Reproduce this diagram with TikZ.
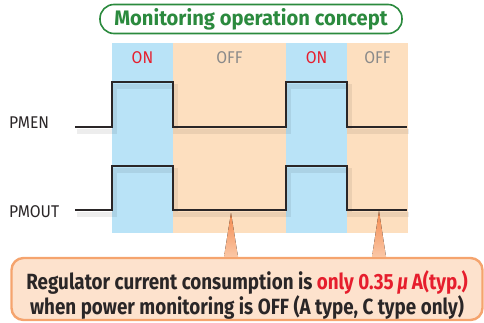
\documentclass[tikz,border=0pt]{standalone}
\usepackage{fontspec}
\newfontfamily\condfont[FakeStretch=0.855]{Fira Sans}
\newfontfamily\titlefont[FakeStretch=0.96]{Fira Sans}
\newfontfamily\labfont[FakeStretch=0.92]{Fira Sans}
\usetikzlibrary{positioning, calc}

\definecolor{bandblue}{HTML}{B9E3F7}
\definecolor{bandorange}{HTML}{FDDFBF}
\definecolor{onred}{HTML}{E61E2D}
\definecolor{offgray}{HTML}{8A8A8A}
\definecolor{textdark}{HTML}{2A2627}
\definecolor{titlegreen}{HTML}{2B8A3E}
\definecolor{notefill}{HTML}{FDE2CD}
\definecolor{noteedge}{HTML}{F5A46E}
\definecolor{pointerorange}{HTML}{F48A4E}

\begin{document}
\begin{tikzpicture}[
    x=1pt, y=-1pt,
    onband/.style={fill=bandblue},
    offband/.style={fill=bandorange},
    onlab/.style={font=\labfont\fontsize{17}{19}\selectfont, text=onred},
    offlab/.style={font=\labfont\fontsize{17}{19}\selectfont, text=offgray},
    wave/.style={line width=2.6pt, draw=textdark, line join=miter},
    waveshade/.style={line width=5pt, draw=black, opacity=0.07},
    siglabel/.style={anchor=west, inner sep=0pt, font=\labfont\fontsize{17}{19}\selectfont, text=textdark},
    titlebox/.style={rectangle, rounded corners=14pt, draw=titlegreen, line width=1.6pt, fill=white, minimum width=302pt, minimum height=29pt, inner sep=0pt, text=titlegreen, font=\titlefont\bfseries\fontsize{21}{23}\selectfont},
    notebox/.style={rectangle, rounded corners=12pt, draw=noteedge, line width=2.4pt, fill=notefill, minimum width=471pt, minimum height=62pt},
    notetext/.style={align=center, inner sep=0pt, text=textdark, font=\condfont\bfseries\fontsize{22}{22.5}\selectfont},
    pointer/.style={top color=pointerorange, bottom color=notefill!70!pointerorange, draw=none}
]
\useasboundingbox (0,0) rectangle (484,322);

% on / off bands
\foreach \xa/\xb/\st/\lab in {112/173/on/ON, 173/286/off/OFF, 286/347/on/ON, 347/408/off/OFF} {
    \fill[\st band] (\xa,43) rectangle (\xb,233);
    \node[\st lab] (lab-\xa) at ({(\xa+\xb)/2},58) {\lab};
}

% signals
\foreach \nm/\lo/\hi/\ly in {PMEN/127/82/123, PMOUT/210/166/212} {
    \draw[waveshade] (77,\lo+4) -| (114,\hi+4) -| (175,\lo+4) -| (288,\hi+4) -| (349,\lo+4) -- (409,\lo+4);
    \draw[wave] (75,\lo) -| (112,\hi) -| (173,\lo) -| (286,\hi) -| (347,\lo) -- (407,\lo);
    \node[siglabel] (\nm) at (9,\ly) {\nm};
}

\node[titlebox] (title) at (251,19) {Monitoring operation concept};

% callout
\coordinate (tip1) at (231,213);
\coordinate (tip2) at (379,211);
\node[notebox] (note) at (247,289) {};
\fill[pointer] (224,0 |- note.north) -- (tip1) -- (238,0 |- note.north) -- cycle;
\fill[pointer] (372,0 |- note.north) -- (tip2) -- (386,0 |- note.north) -- cycle;
\node[notetext] (notetext) at (247,295) {Regulator current consumption is \textcolor{onred}{only 0.35\,\textit{μ}\,A(typ.)}\\ when power monitoring is OFF (A type, C type only)};
\end{tikzpicture}
\end{document}
